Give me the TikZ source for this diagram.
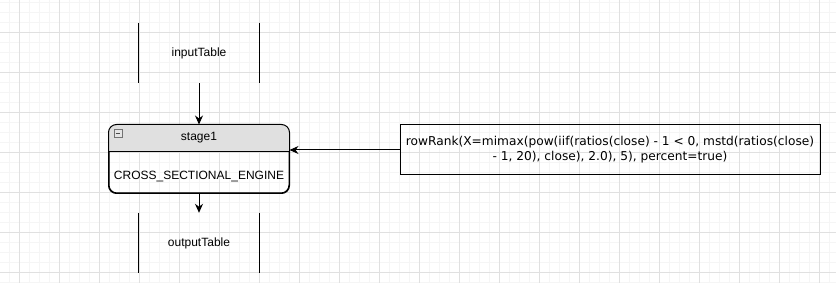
\documentclass[tikz,border=0pt]{standalone}
\usepackage{fontspec}
\setmainfont{Liberation Sans}
\newfontfamily\rulefont{DejaVu Sans}
\usetikzlibrary{arrows.meta, positioning}

\begin{document}
\begin{tikzpicture}[
    x=1pt, y=-1pt,
    every node/.style={font=\fontsize{12}{15}\selectfont, text=black, inner sep=0pt},
    grid_minor/.style={draw=black!4, line width=1pt},
    grid_major/.style={draw=black!12, line width=1pt},
    table_box/.style={minimum width=120pt, minimum height=60pt},
    table_side/.style={draw=black, line width=1pt},
    stage_box/.style={draw=black, line width=1pt, rounded corners=8pt, minimum width=180pt, minimum height=68pt},
    rule_box/.style={draw=black, line width=1pt, minimum width=420pt, minimum height=50pt, align=center,
        font=\rulefont\fontsize{12.2}{15}\selectfont},
    flow_arrow/.style={draw=black, line width=1pt, -{Stealth[length=9pt, width=8pt]}}
]

\useasboundingbox (0,0) rectangle (836,283);
\fill[white] (0,0) rectangle (836,283);

% ==========================
% GRID DE FONDO
% ==========================
\foreach \gx in {9,19,...,829} {
    \draw[grid_minor] (\gx,0) -- (\gx,283);
}
\foreach \gy in {3,13,...,283} {
    \draw[grid_minor] (0,\gy) -- (836,\gy);
}
\foreach \gx in {19,59,...,819} {
    \draw[grid_major] (\gx,0) -- (\gx,283);
}
\foreach \gy in {33,73,...,273} {
    \draw[grid_major] (0,\gy) -- (836,\gy);
}

% ==========================
% TABLAS
% ==========================
\node[table_box] (inTab) at (199,53) {inputTable};
\draw[table_side] (inTab.north west) -- (inTab.south west);
\draw[table_side] (inTab.north east) -- (inTab.south east);

\node[table_box] (outTab) at (199,243) {outputTable};
\draw[table_side] (outTab.north west) -- (outTab.south west);
\draw[table_side] (outTab.north east) -- (outTab.south east);

% ==========================
% STAGE
% ==========================
\node[stage_box] (stage1) at (199,159) {};
\begin{scope}
    \clip[rounded corners=8pt] (stage1.north west) rectangle (stage1.south east);
    \fill[black!12] (stage1.north west) rectangle ([yshift=-27pt]stage1.north east);
\end{scope}
\draw[line width=1pt] ([yshift=-27pt]stage1.north west) -- ([yshift=-27pt]stage1.north east);
\draw[stage_box] (stage1.north west) rectangle (stage1.south east);

\node[draw=black!55, fill=black!10, line width=0.8pt, minimum size=8pt] (fold) at (118,133) {};
\draw[black!70, line width=0.8pt] ([xshift=2pt]fold.west) -- ([xshift=-2pt]fold.east);

\node (stageTitle) at (199,138) {stage1};
\node (stageEngine) at (199,177) {CROSS\_SECTIONAL\_ENGINE};

% ==========================
% EXPRESION
% ==========================
\node[rule_box] (rule) at (610,150) {rowRank(X=mimax(pow(iif(ratios(close) - 1 < 0, mstd(ratios(close)\\[0pt]
- 1, 20), close), 2.0), 5), percent=true)};

% ==========================
% CONEXIONES
% ==========================
\draw[flow_arrow] (inTab.south) -- (stage1.north);
\draw[flow_arrow] (stage1.south) -- (outTab.north);
\draw[flow_arrow] (rule.west) -- (rule.west -| stage1.east);

\end{tikzpicture}
\end{document}
